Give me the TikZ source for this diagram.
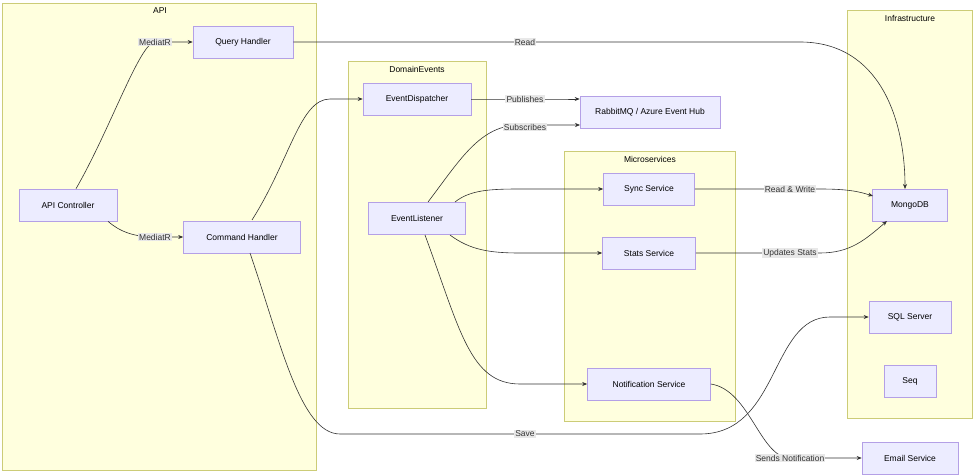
\documentclass[tikz,border=0pt]{standalone}
\usepackage{fontspec}
\setmainfont{Liberation Sans}
\usetikzlibrary{arrows.meta}
\definecolor{cf}{HTML}{FFFFDE}\definecolor{cb}{HTML}{CCCC77}
\definecolor{nf}{HTML}{ECECFF}\definecolor{nb}{HTML}{B4A0E6}
\definecolor{lb}{HTML}{E8E8E8}\definecolor{ln}{HTML}{333333}
\begin{document}
\begin{tikzpicture}[x=1pt,y=-1pt,font=\fontsize{8.5}{10}\selectfont,
 clu/.style={draw=cb,fill=cf,line width=0.6pt},
 nd/.style={draw=nb,fill=nf,line width=0.6pt,minimum height=32pt,inner sep=0pt},
 ed/.style={draw=ln,line width=0.6pt,-{Stealth[length=5pt,width=4pt]}},
 lab/.style={fill=lb,inner sep=1.2pt,text=ln}]
\useasboundingbox (0,0) rectangle (975,476);
\fill[white] (0,0) rectangle (975,476);
\draw[clu] (2,3) rectangle (316,470); \node at (160,11) {API};
\draw[clu] (348,61) rectangle (486,408); \node at (417,69) {DomainEvents};
\draw[clu] (564,151) rectangle (735,421); \node at (650,159) {Microservices};
\draw[clu] (847,10) rectangle (972,418); \node at (910,18) {Infrastructure};
\node[nd,minimum width=100pt] (qh) at (243,42) {Query Handler};
\node[nd,minimum width=98pt] (ac) at (68,205) {API Controller};
\node[nd,minimum width=117pt] (ch) at (242,237) {Command Handler};
\node[nd,minimum width=108pt] (ed) at (417,99) {EventDispatcher};
\node[nd,minimum width=97pt] (el) at (417,218) {EventListener};
\node[nd,minimum width=140pt] (rq) at (650,112) {RabbitMQ / Azure Event Hub};
\node[nd,minimum width=91pt] (ss) at (649,189) {Sync Service};
\node[nd,minimum width=93pt] (st) at (649,253) {Stats Service};
\node[nd,minimum width=123pt] (ns) at (649,384) {Notification Service};
\node[nd,minimum width=75pt] (mg) at (910,205) {MongoDB};
\node[nd,minimum width=82pt] (sq) at (910,317) {SQL Server};
\node[nd,minimum width=52pt] (sg) at (910,381) {Seq};
\node[nd,minimum width=96pt] (em) at (910,458) {Email Service};
\coordinate (a1) at (155,42); \coordinate (a2) at (155,237);
\draw[ed] (ac.north)+(8,0) .. controls (110,130) and (140,42) .. (a1) -- (qh.west);
\node[lab] at (a1) {MediatR};
\draw[ed] (ac.south)+(40,0) .. controls (120,232) and (135,237) .. (a2) -- (ch.west);
\node[lab] at (a2) {MediatR};
\draw[ed] (qh.east) -- (800,42) .. controls (880,42) and (905,120) .. (905,189);
\node[lab] at (525,42) {Read};
\draw[ed] (252,220) .. controls (290,160) and (300,99) .. (330,99) -- (ed.west);
\draw[ed] (250,253) .. controls (280,340) and (300,434) .. (340,434) -- (700,434) .. controls (780,434) and (770,317) .. (830,317) -- (sq.west);
\node[lab] at (525,434) {Save};
\draw[ed] (ed.east) -- (560,99) -- (rq.west|-0,99);
\node[lab] at (525,99) {Publishes};
\draw[ed] (428,202) .. controls (460,160) and (480,125) .. (520,125) -- (580,125);
\node[lab] at (525,127) {Subscribes};
\draw[ed] (455,202) .. controls (470,190) and (490,189) .. (520,189) -- (ss.west);
\draw[ed] (450,235) .. controls (470,250) and (490,253) .. (520,253) -- (st.west);
\draw[ed] (425,235) .. controls (460,330) and (470,384) .. (520,384) -- (ns.west);
\draw[ed] (ss.east) -- (820,189) .. controls (850,189) and (860,192) .. (873,196);
\node[lab] at (790,189) {Read \& Write};
\draw[ed] (st.east) -- (820,253) .. controls (850,253) and (865,240) .. (887,221);
\node[lab] at (790,253) {Updates Stats};
\draw[ed] (ns.east) .. controls (750,390) and (760,458) .. (790,458) -- (em.west);
\node[lab] at (790,458) {Sends Notification};
\end{tikzpicture}
\end{document}
